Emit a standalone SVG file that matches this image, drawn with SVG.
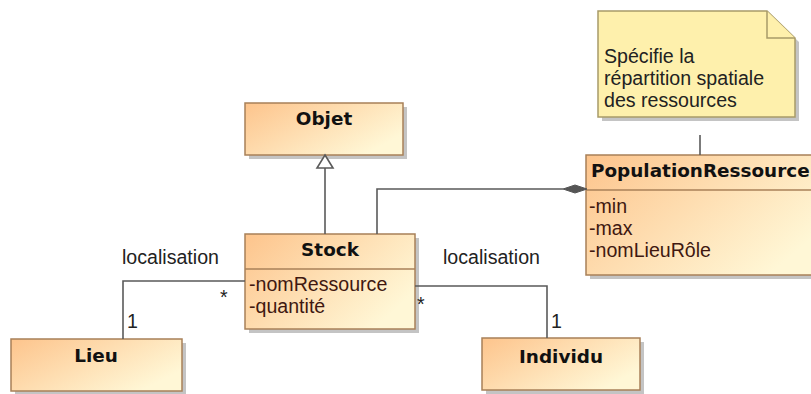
<svg xmlns="http://www.w3.org/2000/svg" width="811" height="394" viewBox="0 0 811 394">
  <defs>
    <linearGradient id="cls" x1="0" y1="0" x2="1" y2="0.6">
      <stop offset="0" stop-color="#FDC48C"/>
      <stop offset="1" stop-color="#FFF7D6"/>
    </linearGradient>
    <style>
      .box{fill:url(#cls);stroke:#A88058;stroke-width:1.5}
      .shadow{fill:#C4C4C4}
      .title{font-family:"DejaVu Sans",Verdana,sans-serif;font-weight:bold;font-size:18.4px;fill:#111;text-anchor:middle}
      .attr{font-family:"Liberation Sans",Arial,sans-serif;font-size:19.6px;fill:#401810}
      .lbl{font-family:"Liberation Sans",Arial,sans-serif;font-size:19.6px;fill:#222}
      .line{fill:none;stroke:#5A5A5A;stroke-width:1.6}
      .note{fill:#FEF0AC;stroke:#A89A68;stroke-width:1.5}
    </style>
  </defs>

  <g id="note">
    <path class="shadow" d="M602 15 H771 L799 42 V121 H602 Z"/>
    <path class="note" d="M598 11 H767 L795 38 V117 H598 Z"/>
    <path class="note" d="M767 11 V38 H795"/>
    <text class="lbl" x="604" y="63">Spécifie la</text>
    <text class="lbl" x="604" y="85">répartition spatiale</text>
    <text class="lbl" x="604" y="107">des ressources</text>
  </g>

  <g id="Objet">
    <rect class="shadow" x="249" y="107" width="158" height="52"/>
    <rect class="box" x="245" y="103" width="158" height="52"/>
    <text class="title" x="324" y="125">Objet</text>
  </g>

  <g id="Stock">
    <rect class="shadow" x="249" y="238" width="170" height="95"/>
    <rect class="box" x="245" y="234" width="170" height="95"/>
    <line class="box" x1="245" y1="269" x2="415" y2="269"/>
    <text class="title" x="330" y="256">Stock</text>
    <text class="attr" x="249" y="291">-nomRessource</text>
    <text class="attr" x="249" y="313">-quantité</text>
  </g>

  <g id="PopulationRessource">
    <rect class="shadow" x="590" y="159" width="240" height="120"/>
    <rect class="box" x="586" y="155" width="240" height="120"/>
    <line class="box" x1="586" y1="190" x2="826" y2="190"/>
    <text class="title" x="591" y="177" style="text-anchor:start">PopulationRessource</text>
    <text class="attr" x="589" y="213">-min</text>
    <text class="attr" x="589" y="235">-max</text>
    <text class="attr" x="589" y="257">-nomLieuRôle</text>
  </g>

  <g id="Lieu">
    <rect class="shadow" x="15" y="343" width="171" height="52"/>
    <rect class="box" x="11" y="339" width="171" height="52"/>
    <text class="title" x="96" y="362">Lieu</text>
  </g>

  <g id="Individu">
    <rect class="shadow" x="486" y="342" width="158" height="52"/>
    <rect class="box" x="482" y="338" width="158" height="52"/>
    <text class="title" x="561" y="363">Individu</text>
  </g>

  <g id="connectors">
    <line class="line" x1="325" y1="234" x2="325" y2="168"/>
    <path d="M325 155 L333 168 L317 168 Z" fill="#fff" stroke="#5A5A5A" stroke-width="1.6"/>
    <path class="line" d="M377 234 V189 H563"/>
    <path d="M563 189 L575 185 L587 189 L575 193 Z" fill="#555" stroke="#555" stroke-width="1"/>
    <line class="line" x1="700" y1="135" x2="700" y2="155"/>
    <path class="line" d="M245 281 H123 V339"/>
    <text class="lbl" x="122" y="264">localisation</text>
    <text class="lbl" x="220" y="304">*</text>
    <text class="lbl" x="127" y="328">1</text>
    <path class="line" d="M415 286 H547 V338"/>
    <text class="lbl" x="443" y="264">localisation</text>
    <text class="lbl" x="417" y="311">*</text>
    <text class="lbl" x="551" y="328">1</text>
  </g>
</svg>
